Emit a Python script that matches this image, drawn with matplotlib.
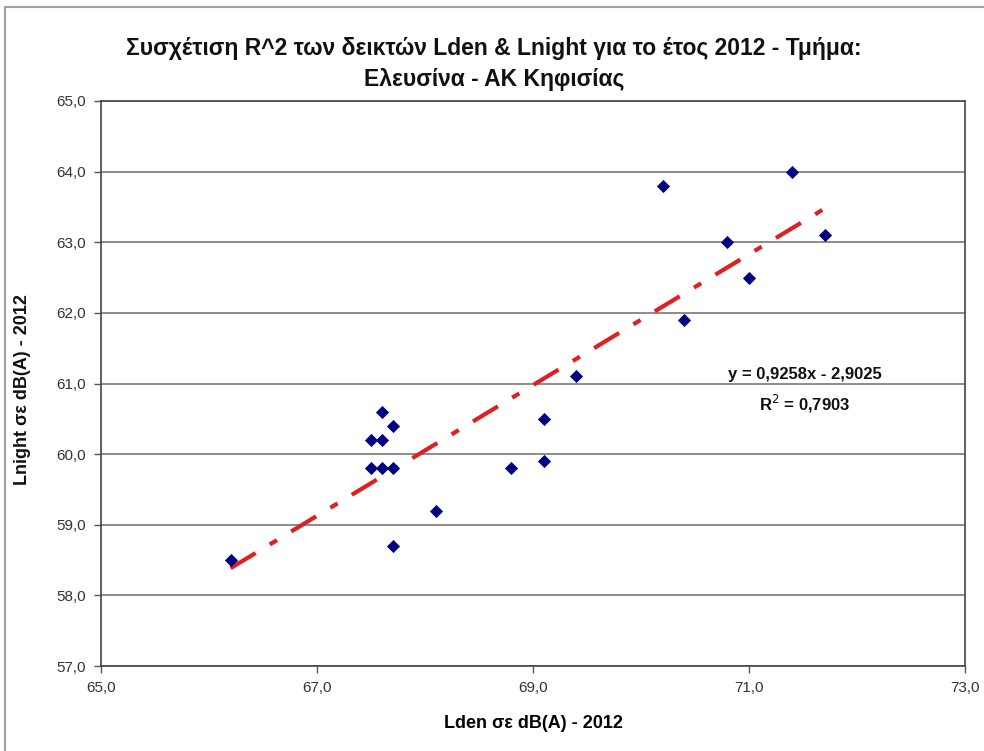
import matplotlib
matplotlib.use("Agg")
import matplotlib.pyplot as plt
from matplotlib.patches import Rectangle
from matplotlib.ticker import FuncFormatter
import numpy as np

plt.rcParams["font.family"] = ["Liberation Sans", "DejaVu Sans"]

# Lden / Lnight values per measuring point (2012)
lden = [66.2, 67.6, 67.7, 67.5, 67.6, 67.5, 67.6, 67.7, 67.7, 68.1,
        68.8, 69.1, 69.1, 69.4, 70.2, 70.4, 70.8, 71.0, 71.4, 71.7]
lnight = [58.5, 60.6, 60.4, 60.2, 60.2, 59.8, 59.8, 59.8, 58.7, 59.2,
          59.8, 60.5, 59.9, 61.1, 63.8, 61.9, 63.0, 62.5, 64.0, 63.1]

x_ticks = [65.0, 67.0, 69.0, 71.0, 73.0]
y_ticks = [57.0, 58.0, 59.0, 60.0, 61.0, 62.0, 63.0, 64.0, 65.0]

# linear trendline as printed on the chart
slope = 0.9258
intercept = -2.9025
r2 = 0.7903

title = ("Συσχέτιση R^2 των δεικτών Lden & Lnight για το έτος 2012 - Τμήμα:\n"
         "Ελευσίνα - ΑΚ Κηφισίας")
xlabel = "Lden σε dB(A) - 2012"
ylabel = "Lnight σε dB(A) - 2012"

W, H = 984, 751
fig = plt.figure(figsize=(W / 100, H / 100), dpi=100)

# outer chart border (only top and left visible)
fig.patches.append(Rectangle((5 / W, -0.1), 1.2, 1 - 7 / H + 0.1,
                             transform=fig.transFigure, fill=False,
                             edgecolor="#a0a0a0", linewidth=1.5))

ax = fig.add_axes([101 / W, 1 - 666 / H, (965 - 101) / W, (666 - 101) / H])

ax.set_xlim(x_ticks[0], x_ticks[-1])
ax.set_ylim(y_ticks[0], y_ticks[-1])
ax.set_xticks(x_ticks)
ax.set_yticks(y_ticks)
fmt = FuncFormatter(lambda v, p: f"{v:.1f}".replace(".", ","))
ax.xaxis.set_major_formatter(fmt)
ax.yaxis.set_major_formatter(fmt)
ax.tick_params(direction="out", length=5, width=1, color="#555555",
               labelsize=11, labelcolor="#333333", pad=6)
ax.grid(axis="y", color="#8c8c8c", linewidth=1.4)
ax.set_axisbelow(True)
for s in ax.spines.values():
    s.set_color("#444444")
    s.set_linewidth(1.2)

ax.scatter(lden, lnight, marker="D", s=45, color="#000080", zorder=3,
           linewidths=0)

xt = np.array([min(lden), max(lden)])
ax.plot(xt, slope * xt + intercept, color="#e02020", linewidth=3,
        dashes=(7, 4, 2, 4), zorder=2)

eq = f"y = {slope:.4f}x - {abs(intercept):.4f}".replace(".", ",")
ax.text(805 / W, 1 - 374 / H, eq, transform=fig.transFigure, ha="center",
        va="center", fontsize=12, fontweight="bold", color="#111111")
ax.text(805 / W, 1 - 404 / H, f"R$^2$ = {r2:.4f}".replace(".", ","),
        transform=fig.transFigure, ha="center", va="center", fontsize=12,
        fontweight="bold", color="#111111")

fig.text(494 / W, 1 - 64 / H, title, ha="center", va="center", fontsize=16.5,
         fontweight="bold", linespacing=1.4, color="#111111")
ax.set_xlabel(xlabel, fontsize=13, fontweight="bold", labelpad=14)
fig.text(23 / W, 1 - 390 / H, ylabel, rotation=90, ha="center", va="center",
         fontsize=13, fontweight="bold", color="#111111")

fig.savefig("out.png", dpi=100)
